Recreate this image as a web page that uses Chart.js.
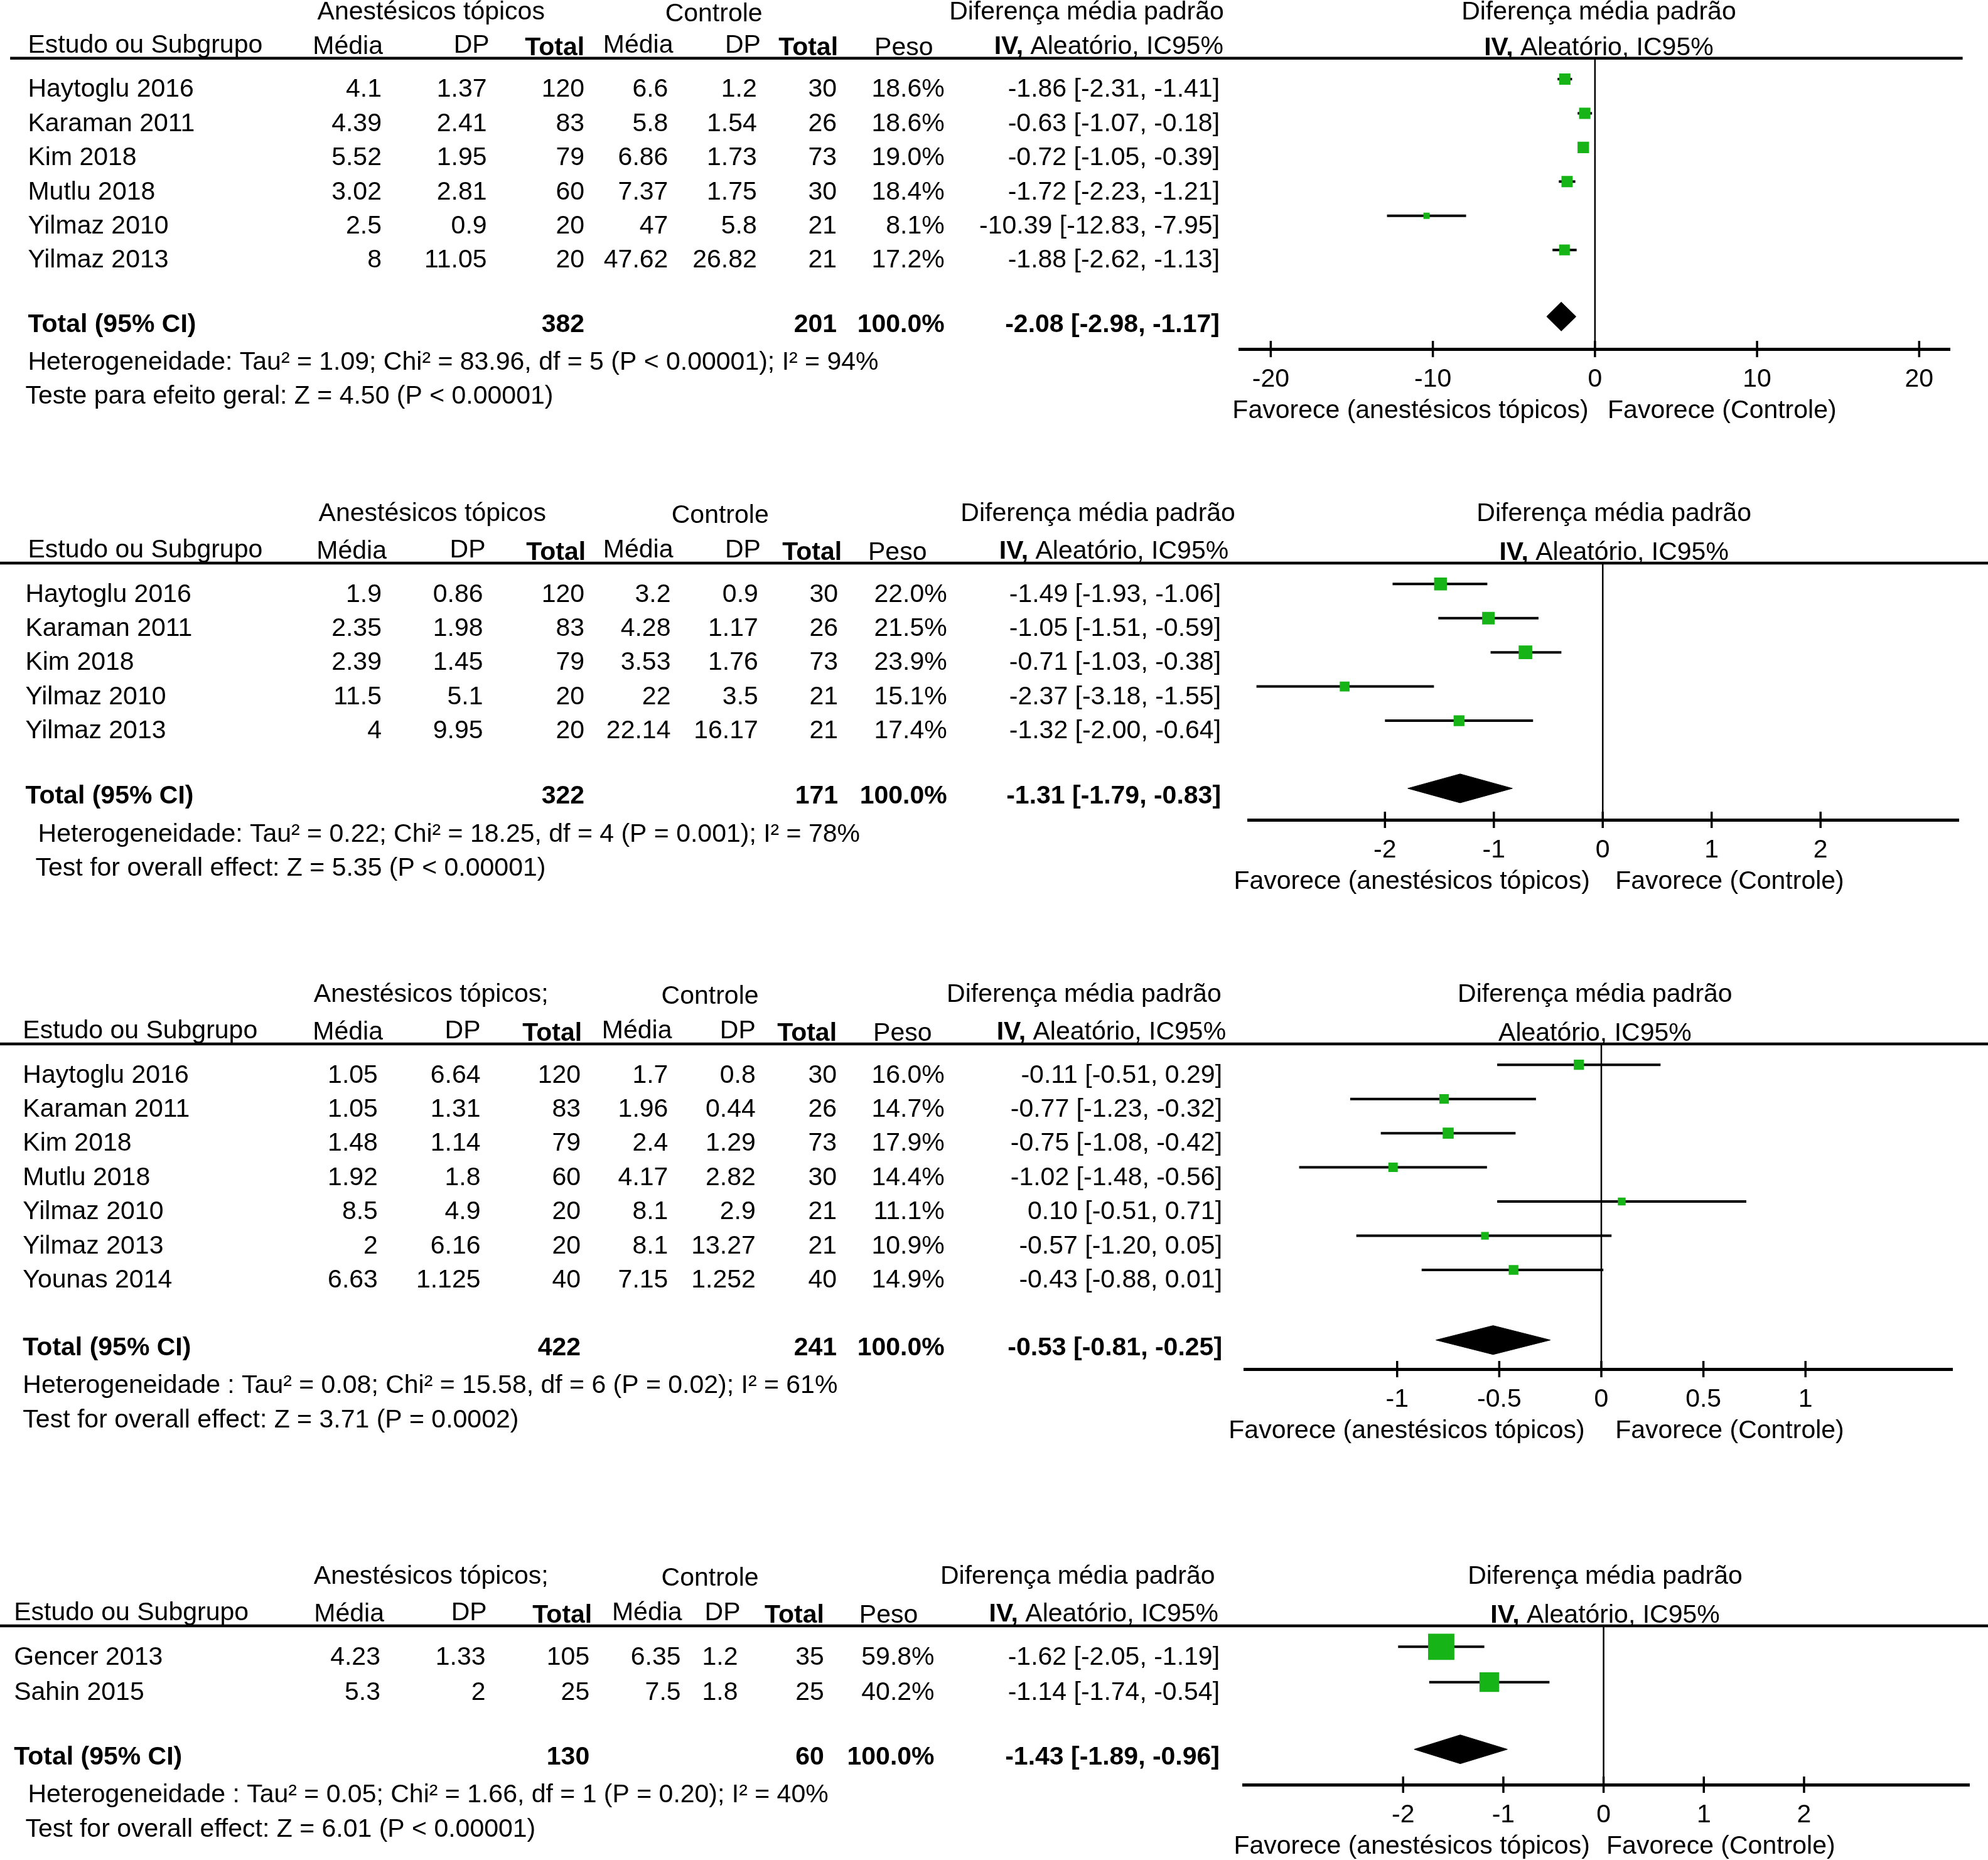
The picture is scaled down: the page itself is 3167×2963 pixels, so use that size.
<!DOCTYPE html>
<html>
<head>
<meta charset="utf-8">
<title>Forest plots - anestésicos tópicos</title>
<script src="https://cdn.jsdelivr.net/npm/chart.js@4.4.0/dist/chart.umd.min.js"></script>
<style>
	html, body { margin: 0; padding: 0; background: #fff; }
	#wrap { position: relative; width: 3167px; height: 2963px; overflow: hidden; }
	#wrap canvas { position: absolute; left: 0; }
</style>
</head>
<body>
<div id="wrap">
	<canvas id="p1"></canvas>
	<canvas id="p2"></canvas>
	<canvas id="p3"></canvas>
	<canvas id="p4"></canvas>
</div>
<script>
	// ---- panel 1 ----
	const p1Studies = ['Haytoglu 2016', 'Karaman 2011', 'Kim 2018', 'Mutlu 2018', 'Yilmaz 2010', 'Yilmaz 2013'];
	const p1ExpMean = [4.1, 4.39, 5.52, 3.02, 2.5, 8];
	const p1ExpSD = [1.37, 2.41, 1.95, 2.81, 0.9, 11.05];
	const p1ExpN = [120, 83, 79, 60, 20, 20];
	const p1CtlMean = [6.6, 5.8, 6.86, 7.37, 47, 47.62];
	const p1CtlSD = [1.2, 1.54, 1.73, 1.75, 5.8, 26.82];
	const p1CtlN = [30, 26, 73, 30, 21, 21];
	const p1Weight = [18.6, 18.6, 19.0, 18.4, 8.1, 17.2];
	const p1Smd = [-1.86, -0.63, -0.72, -1.72, -10.39, -1.88];
	const p1Lo = [-2.31, -1.07, -1.05, -2.23, -12.83, -2.62];
	const p1Hi = [-1.41, -0.18, -0.39, -1.21, -7.95, -1.13];
	const p1Totals = [382, 201];
	const p1Pooled = [-2.08, -2.98, -1.17];
	const p1Ticks = [-20, -10, 0, 10, 20];
	const p1Range = [-21.9, 21.9];
	const p1Notes = ['Heterogeneidade: Tau² = 1.09; Chi² = 83.96, df = 5 (P < 0.00001); I² = 94%', 'Teste para efeito geral: Z = 4.50 (P < 0.00001)'];

	// ---- panel 2 ----
	const p2Studies = ['Haytoglu 2016', 'Karaman 2011', 'Kim 2018', 'Yilmaz 2010', 'Yilmaz 2013'];
	const p2ExpMean = [1.9, 2.35, 2.39, 11.5, 4];
	const p2ExpSD = [0.86, 1.98, 1.45, 5.1, 9.95];
	const p2ExpN = [120, 83, 79, 20, 20];
	const p2CtlMean = [3.2, 4.28, 3.53, 22, 22.14];
	const p2CtlSD = [0.9, 1.17, 1.76, 3.5, 16.17];
	const p2CtlN = [30, 26, 73, 21, 21];
	const p2Weight = [22.0, 21.5, 23.9, 15.1, 17.4];
	const p2Smd = [-1.49, -1.05, -0.71, -2.37, -1.32];
	const p2Lo = [-1.93, -1.51, -1.03, -3.18, -2.00];
	const p2Hi = [-1.06, -0.59, -0.38, -1.55, -0.64];
	const p2Totals = [322, 171];
	const p2Pooled = [-1.31, -1.79, -0.83];
	const p2Ticks = [-2, -1, 0, 1, 2];
	const p2Range = [-3.25, 3.27];
	const p2Notes = ['Heterogeneidade: Tau² = 0.22; Chi² = 18.25, df = 4 (P = 0.001); I² = 78%', 'Test for overall effect: Z = 5.35 (P < 0.00001)'];

	// ---- panel 3 ----
	const p3Studies = ['Haytoglu 2016', 'Karaman 2011', 'Kim 2018', 'Mutlu 2018', 'Yilmaz 2010', 'Yilmaz 2013', 'Younas 2014'];
	const p3ExpMean = [1.05, 1.05, 1.48, 1.92, 8.5, 2, 6.63];
	const p3ExpSD = [6.64, 1.31, 1.14, 1.8, 4.9, 6.16, 1.125];
	const p3ExpN = [120, 83, 79, 60, 20, 20, 40];
	const p3CtlMean = [1.7, 1.96, 2.4, 4.17, 8.1, 8.1, 7.15];
	const p3CtlSD = [0.8, 0.44, 1.29, 2.82, 2.9, 13.27, 1.252];
	const p3CtlN = [30, 26, 73, 30, 21, 21, 40];
	const p3Weight = [16.0, 14.7, 17.9, 14.4, 11.1, 10.9, 14.9];
	const p3Smd = [-0.11, -0.77, -0.75, -1.02, 0.10, -0.57, -0.43];
	const p3Lo = [-0.51, -1.23, -1.08, -1.48, -0.51, -1.20, -0.88];
	const p3Hi = [0.29, -0.32, -0.42, -0.56, 0.71, 0.05, 0.01];
	const p3Totals = [422, 241];
	const p3Pooled = [-0.53, -0.81, -0.25];
	const p3Ticks = [-1, -0.5, 0, 0.5, 1];
	const p3Range = [-1.745, 1.72];
	const p3Notes = ['Heterogeneidade : Tau² = 0.08; Chi² = 15.58, df = 6 (P = 0.02); I² = 61%', 'Test for overall effect: Z = 3.71 (P = 0.0002)'];

	// ---- panel 4 ----
	const p4Studies = ['Gencer 2013', 'Sahin 2015'];
	const p4ExpMean = [4.23, 5.3];
	const p4ExpSD = [1.33, 2];
	const p4ExpN = [105, 25];
	const p4CtlMean = [6.35, 7.5];
	const p4CtlSD = [1.2, 1.8];
	const p4CtlN = [35, 25];
	const p4Weight = [59.8, 40.2];
	const p4Smd = [-1.62, -1.14];
	const p4Lo = [-2.05, -1.74];
	const p4Hi = [-1.19, -0.54];
	const p4Totals = [130, 60];
	const p4Pooled = [-1.43, -1.89, -0.96];
	const p4Ticks = [-2, -1, 0, 1, 2];
	const p4Range = [-3.59, 3.65];
	const p4Notes = ['Heterogeneidade : Tau² = 0.05; Chi² = 1.66, df = 1 (P = 0.20); I² = 40%', 'Test for overall effect: Z = 6.01 (P < 0.00001)'];

	// measurements were taken on a half size copy, KX / KY scale them back
	const W = 3167;
	const KX = 3167 / 1568;
	const KY = 2963 / 1470;
	const FONT = '"Liberation Sans", Arial, Helvetica, sans-serif';
	const FS = 41;
	const GREEN = '#16b416';
	const TEXT_DY = 17;

	const fmtCI = (m, l, h) => `${ m.toFixed(2) } [${ l.toFixed(2) }, ${ h.toFixed(2) }]`;

	const drawText = function (ctx, str, x, y, align, bold) {
		ctx.font = (bold ? 'bold ' : '') + FS + 'px ' + FONT;
		ctx.textAlign = align;
		ctx.textBaseline = 'middle';
		ctx.fillText(str, x, y);
	}

	// "IV, Aleatório, IC95%" with a bold IV; anchor = 'right' or 'center'
	const drawIvHeader = function (ctx, x, y, anchor, withIv) {
		const rest = withIv ? ' Aleatório, IC95%' : 'Aleatório, IC95%';
		ctx.font = FS + 'px ' + FONT;
		const wRest = ctx.measureText(rest).width;
		ctx.font = 'bold ' + FS + 'px ' + FONT;
		const wIv = withIv ? ctx.measureText('IV,').width : 0;
		const right = anchor === 'center' ? x + (wRest + wIv) / 2 : x;
		drawText(ctx, rest, right, y, 'right', false);
		if (withIv) drawText(ctx, 'IV,', right - wRest, y, 'right', true);
	}

	const forestPlugin = {
		id: 'forestText',
		beforeDatasetsDraw(chart) {
			const { ctx, chartArea, scales: { x } } = chart;
			const x0 = x.getPixelForValue(0);
			ctx.save();
			ctx.strokeStyle = '#000';
			ctx.lineWidth = 2.5;
			ctx.beginPath();
			ctx.moveTo(x0, chartArea.top);
			ctx.lineTo(x0, chartArea.bottom);
			ctx.stroke();
			ctx.restore();
		},
		afterDraw(chart) {
			const p = chart.options.plugins.forestText;
			const { ctx, chartArea, scales: { x, y } } = chart;
			const lay = p.lay;
			const ruleY = chartArea.top;
			ctx.save();
			ctx.fillStyle = '#000';
			ctx.strokeStyle = '#000';

			// header rule
			ctx.lineWidth = 4.5;
			ctx.beginPath();
			ctx.moveTo(lay.ruleL * KX, ruleY);
			ctx.lineTo(lay.ruleR * KX, ruleY);
			ctx.stroke();

			// tick marks crossing the axis
			ctx.lineWidth = 3.5;
			p.ticks.forEach(v => {
				const px = x.getPixelForValue(v);
				ctx.beginPath();
				ctx.moveTo(px, chartArea.bottom - 13);
				ctx.lineTo(px, chartArea.bottom + 13);
				ctx.stroke();
			});

			// column headers (top panel sits right at the page edge)
			const h1 = Math.max(ruleY - 39 * KY, 20);
			const h2 = ruleY - 9 * KY;
			drawText(ctx, p.groupLabel, lay.group[0] * KX, h1, 'center', false);
			drawText(ctx, 'Controle', lay.group[1] * KX, h1 + 3, 'center', false);
			drawText(ctx, 'Diferença média padrão', lay.group[2] * KX, h1, 'center', false);
			drawText(ctx, 'Diferença média padrão', lay.right * KX, h1, 'center', false);
			const hc = lay.head;
			drawText(ctx, 'Estudo ou Subgrupo', hc[0] * KX, h2 - 2, 'left', false);
			drawText(ctx, 'Média', hc[1] * KX, h2, 'right', false);
			drawText(ctx, 'DP', hc[2] * KX, h2 - 2, 'right', false);
			drawText(ctx, 'Total', hc[3] * KX, h2 + 2, 'right', true);
			drawText(ctx, 'Média', hc[4] * KX, h2 - 2, 'right', false);
			drawText(ctx, 'DP', hc[5] * KX, h2 - 2, 'right', false);
			drawText(ctx, 'Total', hc[6] * KX, h2 + 2, 'right', true);
			drawText(ctx, 'Peso', hc[7] * KX, h2 + 2, 'right', false);
			drawIvHeader(ctx, hc[8] * KX, h2, 'right', true);
			drawIvHeader(ctx, lay.right * KX, h2 + 2, 'center', p.rightIv);

			// study rows
			const c = lay.cols;
			p.studies.forEach((s, i) => {
				const ty = y.getPixelForValue(i) + TEXT_DY;
				drawText(ctx, s, c[0] * KX, ty, 'left', false);
				drawText(ctx, String(p.expMean[i]), c[1] * KX, ty, 'right', false);
				drawText(ctx, String(p.expSD[i]), c[2] * KX, ty, 'right', false);
				drawText(ctx, String(p.expN[i]), c[3] * KX, ty, 'right', false);
				drawText(ctx, String(p.ctlMean[i]), c[4] * KX, ty, 'right', false);
				drawText(ctx, String(p.ctlSD[i]), c[5] * KX, ty, 'right', false);
				drawText(ctx, String(p.ctlN[i]), c[6] * KX, ty, 'right', false);
				drawText(ctx, p.weight[i].toFixed(1) + '%', c[7] * KX, ty, 'right', false);
				drawText(ctx, fmtCI(p.smd[i], p.lo[i], p.hi[i]), c[8] * KX, ty, 'right', false);
			});

			// total row
			const tt = y.getPixelForValue(p.totalRow) + TEXT_DY - 4;
			drawText(ctx, 'Total (95% CI)', c[0] * KX, tt, 'left', true);
			drawText(ctx, String(p.totals[0]), c[3] * KX, tt, 'right', true);
			drawText(ctx, String(p.totals[1]), c[6] * KX, tt, 'right', true);
			drawText(ctx, '100.0%', c[7] * KX, tt, 'right', true);
			drawText(ctx, fmtCI(p.pooled[0], p.pooled[1], p.pooled[2]), c[8] * KX, tt, 'right', true);

			drawText(ctx, p.notes[0], lay.notesX[0] * KX, tt + 30 * KY, 'left', false);
			drawText(ctx, p.notes[1], lay.notesX[1] * KX, tt + 57 * KY, 'left', false);

			// favours labels under the axis
			const fy = chartArea.bottom + 49 * KY;
			drawText(ctx, 'Favorece (anestésicos tópicos)', lay.fav[0] * KX, fy, 'right', false);
			drawText(ctx, 'Favorece (Controle)', lay.fav[1] * KX, fy, 'left', false);
			ctx.restore();
		}
	};

	const handleForest = function (id, p) {
		const canvas = document.getElementById(id);
		const lay = p.lay;
		const n = p.studies.length;
		const canvasTop = Math.max(0, Math.round(lay.rule * KY - 110));
		const ruleY = lay.rule * KY - canvasTop;
		const yMin = -16.5 / lay.pitch;
		const yMax = n + 1.9;
		const plotH = (yMax - yMin) * lay.pitch * KY;
		const xAxisH = 150;
		const H = Math.round(ruleY + plotH + xAxisH);
		canvas.width = W;
		canvas.height = H;
		canvas.style.top = canvasTop + 'px';
		canvas.style.width = W + 'px';
		canvas.style.height = H + 'px';

		p.totalRow = n + lay.totalOff;
		const half = 23 / (lay.pitch * KY);

		const datasets = [
			{
				data: p.studies.map((s, i) => ({ x: p.smd[i], y: i })),
				pointStyle: 'rect',
				// box side grows a bit slower than the weight
				pointRadius: p.weight.map(w => 2.2 * Math.pow(w, 0.72) / Math.SQRT2),
				backgroundColor: GREEN,
				borderWidth: 0,
				showLine: false,
				order: 0
			},
			{
				data: [
					{ x: p.pooled[1], y: p.totalRow },
					{ x: p.pooled[0], y: p.totalRow - half },
					{ x: p.pooled[2], y: p.totalRow },
					{ x: p.pooled[0], y: p.totalRow + half },
					{ x: p.pooled[1], y: p.totalRow }
				],
				showLine: true,
				fill: 'shape',
				backgroundColor: '#000',
				borderColor: '#000',
				borderWidth: 1,
				pointRadius: 0,
				tension: 0,
				order: 1
			}
		];
		p.studies.forEach((s, i) => {
			datasets.push({
				data: [{ x: p.lo[i], y: i }, { x: p.hi[i], y: i }],
				showLine: true,
				borderColor: '#000',
				borderWidth: 4,
				pointRadius: 0,
				fill: false,
				order: 1
			});
		});

		new Chart(canvas.getContext('2d'), {
			type: 'scatter',
			data: { datasets: datasets },
			plugins: [forestPlugin],
			options: {
				responsive: false,
				maintainAspectRatio: false,
				devicePixelRatio: 1,
				animation: false,
				layout: {
					padding: { left: lay.axL * KX, right: W - lay.axR * KX, top: ruleY, bottom: 0 }
				},
				plugins: {
					legend: { display: false },
					tooltip: { enabled: false },
					forestText: p
				},
				scales: {
					x: {
						type: 'linear',
						min: p.range[0],
						max: p.range[1],
						afterBuildTicks: (scale) => { scale.ticks = p.ticks.map(v => ({ value: v })); },
						afterFit: (scale) => { scale.height = xAxisH; },
						grid: { display: false, drawTicks: false },
						border: { display: true, color: '#000', width: 5 },
						ticks: {
							color: '#000',
							padding: 24,
							maxRotation: 0,
							autoSkip: false,
							font: { family: FONT, size: FS },
							callback: (v) => String(v)
						}
					},
					y: {
						type: 'linear',
						display: false,
						reverse: true,
						min: yMin,
						max: yMax
					}
				}
			}
		});
	}

	const handleLoadPage = function () {
		handleForest('p1', {
			studies: p1Studies, expMean: p1ExpMean, expSD: p1ExpSD, expN: p1ExpN,
			ctlMean: p1CtlMean, ctlSD: p1CtlSD, ctlN: p1CtlN, weight: p1Weight,
			smd: p1Smd, lo: p1Lo, hi: p1Hi, totals: p1Totals, pooled: p1Pooled,
			ticks: p1Ticks, range: p1Range, notes: p1Notes,
			groupLabel: 'Anestésicos tópicos', rightIv: true,
			lay: {
				rule: 46, pitch: 27, totalOff: 0.95, axL: 978, axR: 1538, ruleL: 8, ruleR: 1548,
				cols: [22, 301, 384, 461, 527, 597, 660, 745, 962],
				head: [22, 302, 386, 461, 531, 600, 661, 736, 965],
				group: [340, 563, 857], right: 1261, notesX: [22, 20], fav: [1253, 1268]
			}
		});
		handleForest('p2', {
			studies: p2Studies, expMean: p2ExpMean, expSD: p2ExpSD, expN: p2ExpN,
			ctlMean: p2CtlMean, ctlSD: p2CtlSD, ctlN: p2CtlN, weight: p2Weight,
			smd: p2Smd, lo: p2Lo, hi: p2Hi, totals: p2Totals, pooled: p2Pooled,
			ticks: p2Ticks, range: p2Range, notes: p2Notes,
			groupLabel: 'Anestésicos tópicos', rightIv: true,
			lay: {
				rule: 445, pitch: 27, totalOff: 0.98, axL: 985, axR: 1545, ruleL: 0, ruleR: 1568,
				cols: [20, 301, 381, 461, 529, 598, 661, 747, 963],
				head: [22, 305, 383, 462, 531, 600, 664, 731, 969],
				group: [341, 568, 866], right: 1273, notesX: [30, 28], fav: [1254, 1274]
			}
		});
		handleForest('p3', {
			studies: p3Studies, expMean: p3ExpMean, expSD: p3ExpSD, expN: p3ExpN,
			ctlMean: p3CtlMean, ctlSD: p3CtlSD, ctlN: p3CtlN, weight: p3Weight,
			smd: p3Smd, lo: p3Lo, hi: p3Hi, totals: p3Totals, pooled: p3Pooled,
			ticks: p3Ticks, range: p3Range, notes: p3Notes,
			groupLabel: 'Anestésicos tópicos;', rightIv: false,
			lay: {
				rule: 825, pitch: 27, totalOff: 1.05, axL: 982, axR: 1540, ruleL: 0, ruleR: 1568,
				cols: [18, 298, 379, 458, 527, 596, 660, 745, 964],
				head: [18, 302, 379, 459, 530, 596, 660, 735, 967],
				group: [340, 560, 855], right: 1258, notesX: [18, 18], fav: [1250, 1274]
			}
		});
		handleForest('p4', {
			studies: p4Studies, expMean: p4ExpMean, expSD: p4ExpSD, expN: p4ExpN,
			ctlMean: p4CtlMean, ctlSD: p4CtlSD, ctlN: p4CtlN, weight: p4Weight,
			smd: p4Smd, lo: p4Lo, hi: p4Hi, totals: p4Totals, pooled: p4Pooled,
			ticks: p4Ticks, range: p4Range, notes: p4Notes,
			groupLabel: 'Anestésicos tópicos;', rightIv: true,
			lay: {
				rule: 1285, pitch: 28, totalOff: 0.9, axL: 981, axR: 1568, ruleL: 0, ruleR: 1568,
				cols: [11, 300, 383, 465, 537, 582, 650, 737, 962],
				head: [11, 303, 384, 467, 538, 584, 650, 724, 961],
				group: [340, 560, 850], right: 1266, notesX: [22, 20], fav: [1254, 1267]
			}
		});
	};

	handleLoadPage();
</script>
</body>
</html>
